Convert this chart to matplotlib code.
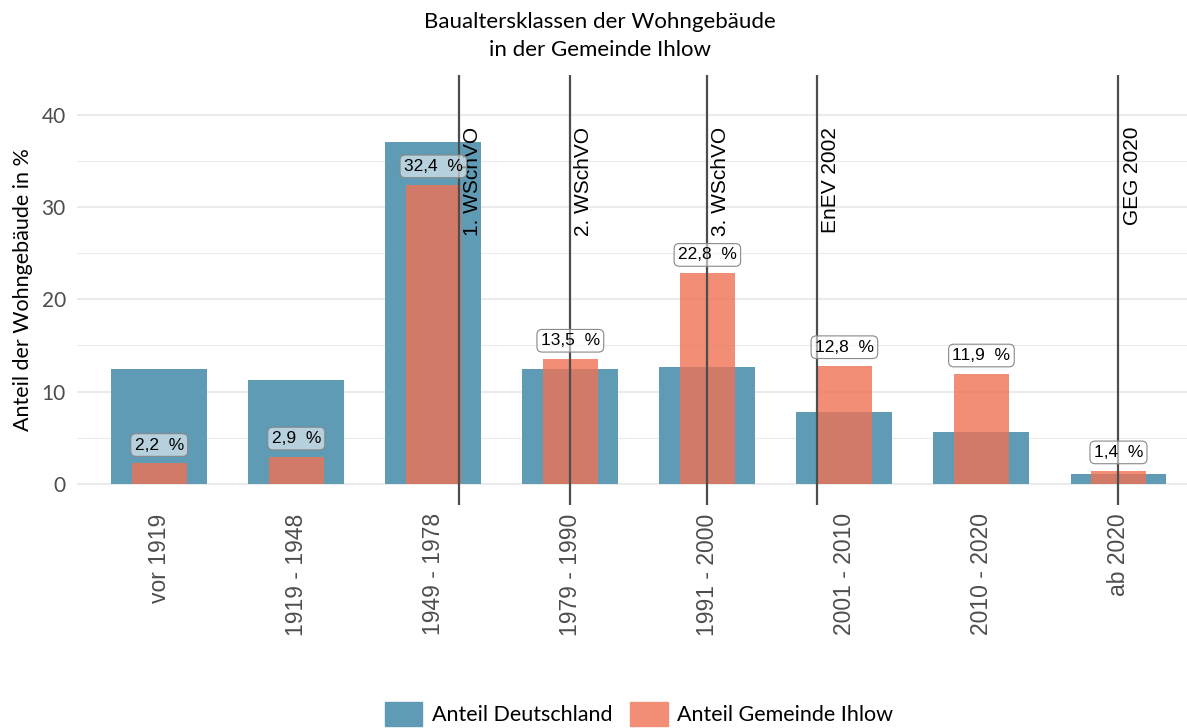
import matplotlib.pyplot as plt
import matplotlib.patches as mpatches
import numpy as np

# data
categories = ["vor 1919", "1919 - 1948", "1949 - 1978", "1979 - 1990",
              "1991 - 2000", "2001 - 2010", "2010 - 2020", "ab 2020"]
anteil_deutschland = [12.4, 11.2, 37.0, 12.4, 12.7, 7.8, 5.6, 1.1]
anteil_ihlow = [2.2, 2.9, 32.4, 13.5, 22.8, 12.8, 11.9, 1.4]

# regulations, x position on the category axis (1 = first category)
regel_labels = ["1. WSchVO", "2. WSchVO", "3. WSchVO", "EnEV 2002", "GEG 2020"]
regel_pos = [3.19, 4.0, 5.0, 5.8, 8.0]

BLUE = "#5f9bb5"
SALMON = "#ef7254"
GRID = "#ebebeb"
TICK_GREY = "#4d4d4d"

plt.rcParams["font.family"] = ["Lato", "DejaVu Sans"]

fig = plt.figure(figsize=(11.87, 7.28), dpi=100)
ax = fig.add_axes([77 / 1187, 1 - 505 / 728, 1 - 77 / 1187, (505 - 75) / 728])

x = np.arange(1, len(categories) + 1)

for y in [5, 15, 25, 35]:
    ax.axhline(y, color=GRID, lw=0.8, zorder=0)
for y in [0, 10, 20, 30, 40]:
    ax.axhline(y, color=GRID, lw=1.5, zorder=0)

ax.bar(x, anteil_deutschland, width=0.7, color=BLUE, zorder=1,
       label="Anteil Deutschland")
ax.bar(x, anteil_ihlow, width=0.4, color=SALMON, alpha=0.8, zorder=2,
       label="Anteil Gemeinde Ihlow")

for pos, lab in zip(regel_pos, regel_labels):
    ax.axvline(pos, color="#4d4d4d", lw=1.6, zorder=3)
    ax.text(pos + 0.03, 38.7, lab, rotation=90, ha="left", va="top",
            fontsize=15, family="Liberation Sans", color="black", zorder=4)

for xi, v in zip(x, anteil_ihlow):
    ax.text(xi, v + 2.0, f"{v:.1f}".replace(".", ",") + "  %",
            ha="center", va="center", fontsize=12.5, family="Liberation Sans",
            zorder=5,
            bbox=dict(boxstyle="round,pad=0.22,rounding_size=0.3",
                      facecolor=(1, 1, 1, 0.55), edgecolor="#888888", lw=0.8))

ax.set_xlim(0.4, 8.5)
ax.set_ylim(-2.3, 44.3)
ax.set_xticks(x)
ax.set_xticklabels(categories, rotation=90, fontsize=16.5, color=TICK_GREY,
                   family="Liberation Sans")
ax.set_yticks([0, 10, 20, 30, 40])
ax.tick_params(axis="y", labelsize=15, colors=TICK_GREY, length=0, pad=8)
ax.tick_params(axis="x", length=0, pad=6)
ax.set_ylabel("Anteil der Wohngebäude in %", fontsize=15.5, labelpad=6)
for s in ax.spines.values():
    s.set_visible(False)

fig.suptitle("Baualtersklassen der Wohngebäude\nin der Gemeinde Ihlow",
             x=600 / 1187, y=1 - 12 / 728, va="top", fontsize=16,
             linespacing=1.5)

handles = [mpatches.Patch(color=BLUE, label="Anteil Deutschland"),
           mpatches.Patch(color="#f28e76", label="Anteil Gemeinde Ihlow")]
fig.legend(handles=handles, loc="center", ncol=2, frameon=False,
           bbox_to_anchor=(639 / 1187, 1 - 714 / 728), fontsize=15.5,
           handlelength=1.75, handleheight=1.3, columnspacing=0.8,
           handletextpad=0.45)

plt.savefig("out.png", dpi=100)
